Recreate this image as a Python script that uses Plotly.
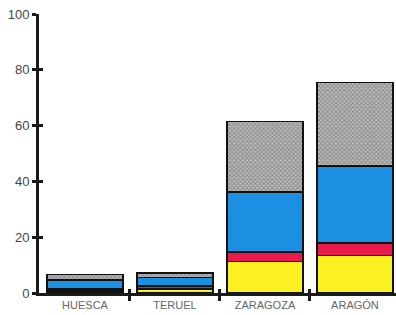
import plotly.graph_objects as go

categories = ["HUESCA", "TERUEL", "ZARAGOZA", "ARAGÓN"]
yellow_vals = [0.8, 1.4, 11.3, 13.4]
red_vals = [0.6, 1.1, 3.4, 4.6]
blue_vals = [3.2, 3.1, 21.5, 27.6]
gray_vals = [2.0, 1.6, 25.3, 29.9]
y_ticks = [0, 20, 40, 60, 80, 100]

xpos = list(range(len(categories)))

fig = go.Figure()
line = dict(color="#111", width=1.5)
fig.add_bar(x=xpos, y=yellow_vals, marker=dict(color="#fbf122", line=line), width=0.844)
fig.add_bar(x=xpos, y=red_vals, marker=dict(color="#ea1a4c", line=line), width=0.844)
fig.add_bar(x=xpos, y=blue_vals, marker=dict(color="#1b8fe2", line=line), width=0.844)
fig.add_bar(x=xpos, y=gray_vals, width=0.844,
            marker=dict(color="#9a9a9a", line=line,
                        pattern=dict(shape="x", fgcolor="#555555", bgcolor="#bebebe",
                                     size=3, solidity=0.5)))
# invisible trace to anchor overlay axes
fig.add_scatter(x=[0], y=[0], xaxis="x2", yaxis="y2", mode="markers",
                marker=dict(opacity=0), hoverinfo="skip", showlegend=False)

fig.update_layout(
    barmode="stack",
    width=396, height=315,
    margin=dict(l=39, r=0, t=14, b=22),
    paper_bgcolor="white", plot_bgcolor="white",
    showlegend=False,
    font=dict(family="Liberation Sans, Arial, sans-serif"),
    xaxis=dict(range=[-0.511, 3.456], tickmode="array", tickvals=xpos, ticktext=categories,
               ticks="", showgrid=False, zeroline=False, showline=True, linecolor="#1a1a1a",
               linewidth=3, tickfont=dict(size=11, color="#666"),
               minor=dict(tickmode="array", tickvals=[0.5, 1.5, 2.5], ticks="outside",
                          ticklen=5, tickwidth=3, tickcolor="#1a1a1a")),
    yaxis=dict(range=[0, 100], tickmode="array", tickvals=y_ticks, ticks="outside",
               ticklen=4, tickwidth=3, tickcolor="#1a1a1a", showgrid=False, zeroline=False,
               showline=True, linecolor="#1a1a1a", linewidth=3,
               tickfont=dict(size=13, color="#444")),
    xaxis2=dict(overlaying="x", range=[-0.511, 3.456], anchor="y2", side="bottom",
                tickmode="array", tickvals=[0.5, 1.5, 2.5], ticks="inside", ticklen=4,
                tickwidth=3, tickcolor="#1a1a1a", showticklabels=False, showgrid=False,
                zeroline=False, showline=False),
    yaxis2=dict(overlaying="y", range=[0, 100], anchor="x2", side="left",
                tickmode="array", tickvals=y_ticks, ticks="inside", ticklen=4,
                tickwidth=3, tickcolor="#1a1a1a", showticklabels=False, showgrid=False,
                zeroline=False, showline=False),
)

fig.write_html("out.html", config={"displayModeBar": False},
               post_script="document.body.style.margin='0';")
